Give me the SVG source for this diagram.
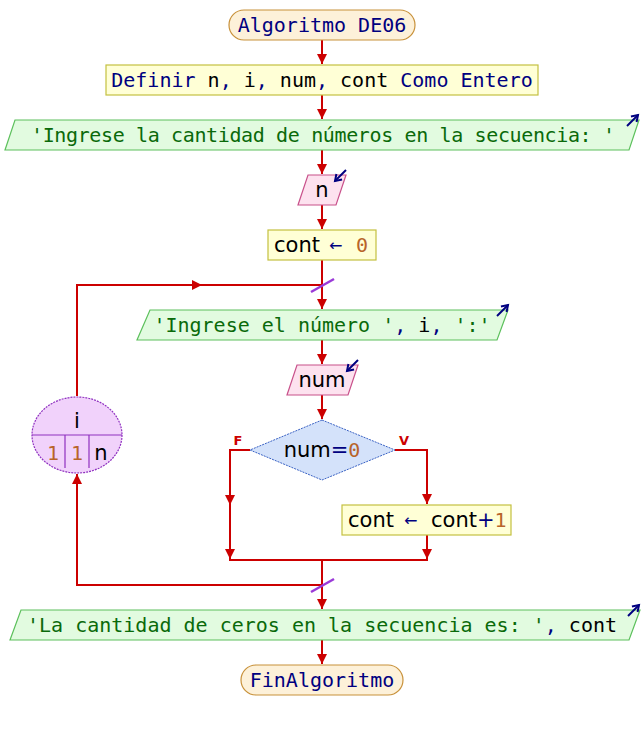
<svg xmlns="http://www.w3.org/2000/svg" width="644" height="730" viewBox="0 0 644 730">
  <style>
    .mono { font-family: "DejaVu Sans Mono", "Liberation Mono", monospace; font-size: 20px; }
    .sans { font-family: "DejaVu Sans", Verdana, sans-serif; font-size: 21px; }
    .arr { font-family: "DejaVu Sans", sans-serif; font-size: 16px; fill: #000080; }
    .term { fill: #fdf1d9; stroke: #c8913a; stroke-width: 1.2; }
    .proc { fill: #ffffd6; stroke: #c4c040; stroke-width: 1.2; }
    .out { fill: #e2fbe0; stroke: #5cc05c; stroke-width: 1.2; }
    .inp { fill: #fde2ef; stroke: #c8508a; stroke-width: 1.2; }
    .dec { fill: #d4e2fa; stroke: #3a62c4; stroke-width: 1; stroke-dasharray: 2 1; }
    .loop { fill: #f1d2fb; stroke: #8f30c0; stroke-width: 1.2; stroke-dasharray: 2 1; }
    .lsep { stroke: #8f30c0; stroke-width: 1.2; fill: none; }
    .kw { fill: #000080; }
    .id { fill: #000000; }
    .str { fill: #0a6a0a; }
    .num { fill: #b8642a; }
    .op { fill: #000080; }
    .wire { stroke: #cc0000; stroke-width: 2; fill: none; }
    .io { stroke: #000080; stroke-width: 2; fill: none; }
    .cut { stroke: #9a3ad8; stroke-width: 2.5; }
    .lbl { font-family: "DejaVu Sans", sans-serif; font-size: 13px; font-weight: bold; fill: #cc0000; }
  </style>
  <defs>
    <marker id="ah" markerUnits="userSpaceOnUse" markerWidth="12" markerHeight="10" refX="10" refY="5" orient="auto">
      <path d="M0,0 L10,5 L0,10 Z" fill="#cc0000"/>
    </marker>
    <marker id="ioh" markerUnits="userSpaceOnUse" markerWidth="10" markerHeight="10" refX="7" refY="5" orient="auto">
      <path d="M1,1 L7,5 L1,9" fill="none" stroke="#000080" stroke-width="2"/>
    </marker>
  </defs>

  <!-- connectors -->
  <g id="connectors">
    <line class="wire" x1="322" y1="40" x2="322" y2="64" marker-end="url(#ah)"/>
    <line class="wire" x1="322" y1="95" x2="322" y2="119" marker-end="url(#ah)"/>
    <line class="wire" x1="322" y1="150" x2="322" y2="174" marker-end="url(#ah)"/>
    <line class="wire" x1="322" y1="205" x2="322" y2="229" marker-end="url(#ah)"/>
    <line class="wire" x1="322" y1="260" x2="322" y2="309" marker-end="url(#ah)"/>
    <line class="wire" x1="322" y1="340" x2="322" y2="364" marker-end="url(#ah)"/>
    <line class="wire" x1="322" y1="395" x2="322" y2="419" marker-end="url(#ah)"/>
    <!-- false branch -->
    <polyline class="wire" points="250,450 230,450 230,505"/>
    <line class="wire" x1="230" y1="495" x2="230" y2="505" marker-end="url(#ah)"/>
    <line class="wire" x1="230" y1="505" x2="230" y2="559" marker-end="url(#ah)"/>
    <!-- true branch -->
    <polyline class="wire" points="395,450 427,450 427,504" marker-end="url(#ah)"/>
    <line class="wire" x1="427" y1="535" x2="427" y2="559" marker-end="url(#ah)"/>
    <line class="wire" x1="229" y1="560" x2="428" y2="560"/>
    <line class="wire" x1="322" y1="560" x2="322" y2="609" marker-end="url(#ah)"/>
    <!-- loop return -->
    <polyline class="wire" points="322,585 77,585 77,474" marker-end="url(#ah)"/>
    <polyline class="wire" points="77,396 77,285 322,285"/>
    <line class="wire" x1="190" y1="285" x2="202" y2="285" marker-end="url(#ah)"/>
    <line class="wire" x1="322" y1="640" x2="322" y2="664" marker-end="url(#ah)"/>
    <line class="cut" x1="311" y1="292" x2="334" y2="279"/>
    <line class="cut" x1="311" y1="592" x2="334" y2="579"/>
    <text class="lbl" x="238" y="445" text-anchor="middle">F</text>
    <text class="lbl" x="404" y="445" text-anchor="middle">V</text>
  </g>

  <g id="start">
    <rect class="term" x="229" y="10" width="186" height="30" rx="15"/>
    <text class="mono kw" x="322" y="32" text-anchor="middle">Algoritmo DE06</text>
  </g>

  <g id="define">
    <rect class="proc" x="106" y="65" width="432" height="30"/>
    <text class="mono" x="322" y="87" text-anchor="middle"><tspan class="kw">Definir</tspan><tspan class="id"> n</tspan><tspan class="op">,</tspan><tspan class="id"> i</tspan><tspan class="op">,</tspan><tspan class="id"> num</tspan><tspan class="op">,</tspan><tspan class="id"> cont</tspan><tspan class="kw"> Como Entero</tspan></text>
  </g>

  <g id="write-prompt">
    <polygon class="out" points="15,120 639,120 629,150 5,150"/>
    <text class="mono str" x="323" y="142" text-anchor="middle" textLength="584" lengthAdjust="spacing">'Ingrese la cantidad de números en la secuencia: '</text>
    <line class="io" x1="627" y1="126" x2="638" y2="115" marker-end="url(#ioh)"/>
  </g>

  <g id="read-n">
    <polygon class="inp" points="308,175 346,175 336,205 298,205"/>
    <text class="sans id" x="322" y="197" text-anchor="middle">n</text>
    <line class="io" x1="346" y1="170" x2="335" y2="181" marker-end="url(#ioh)"/>
  </g>

  <g id="init-cont">
    <rect class="proc" x="268" y="230" width="108" height="30"/>
    <text class="sans id" x="274" y="252">cont</text>
    <text class="arr" x="329" y="251">←</text>
    <text class="mono num" x="356" y="252">0</text>
  </g>

  <g id="loop-for">
    <ellipse class="loop" cx="77" cy="435" rx="45" ry="38"/>
    <line class="lsep" x1="32" y1="435" x2="122" y2="435"/>
    <line class="lsep" x1="65" y1="435" x2="65" y2="468"/>
    <line class="lsep" x1="89" y1="435" x2="89" y2="468"/>
    <text class="sans id" x="77" y="428" text-anchor="middle">i</text>
    <text class="mono num" x="53" y="460" text-anchor="middle">1</text>
    <text class="mono num" x="77" y="460" text-anchor="middle">1</text>
    <text class="sans id" x="101" y="460" text-anchor="middle">n</text>
  </g>

  <g id="write-ask">
    <polygon class="out" points="150,310 508,310 497,340 137,340"/>
    <text class="mono" x="322" y="332" text-anchor="middle"><tspan class="str">'Ingrese el número '</tspan><tspan class="op">, </tspan><tspan class="id">i</tspan><tspan class="op">, </tspan><tspan class="str">':'</tspan></text>
    <line class="io" x1="497" y1="316" x2="508" y2="305" marker-end="url(#ioh)"/>
  </g>

  <g id="read-num">
    <polygon class="inp" points="297,365 358,365 348,395 287,395"/>
    <text class="sans id" x="322" y="387" text-anchor="middle">num</text>
    <line class="io" x1="358" y1="360" x2="347" y2="371" marker-end="url(#ioh)"/>
  </g>

  <g id="check-zero">
    <polygon class="dec" points="322,420 395,450 322,480 250,450"/>
    <text x="322" y="457" text-anchor="middle"><tspan class="sans id">num</tspan><tspan class="sans op">=</tspan><tspan class="mono num">0</tspan></text>
  </g>

  <g id="increment">
    <rect class="proc" x="342" y="505" width="169" height="30"/>
    <text class="sans id" x="348" y="527">cont</text>
    <text class="arr" x="404" y="526">←</text>
    <text x="431" y="527"><tspan class="sans id">cont</tspan><tspan class="sans op">+</tspan><tspan class="mono num">1</tspan></text>
  </g>

  <g id="write-result">
    <polygon class="out" points="21,610 640,610 629,640 10,640"/>
    <text class="mono" x="322" y="632" text-anchor="middle"><tspan class="str">'La cantidad de ceros en la secuencia es: '</tspan><tspan class="op">, </tspan><tspan class="id">cont</tspan></text>
    <line class="io" x1="628" y1="616" x2="639" y2="605" marker-end="url(#ioh)"/>
  </g>

  <g id="end">
    <rect class="term" x="241" y="665" width="162" height="30" rx="15"/>
    <text class="mono kw" x="322" y="687" text-anchor="middle">FinAlgoritmo</text>
  </g>
</svg>
